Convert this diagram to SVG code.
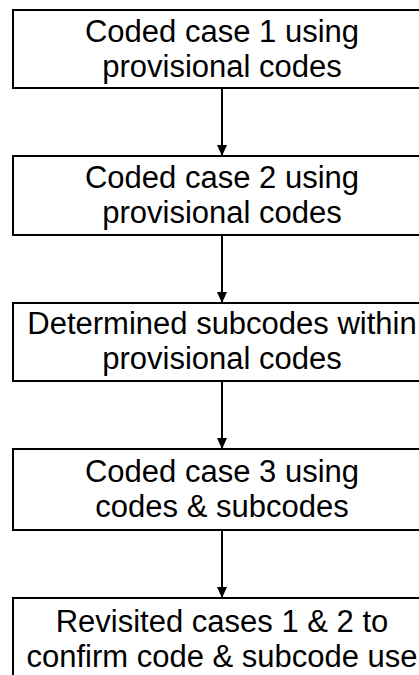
<svg xmlns="http://www.w3.org/2000/svg" width="419" height="675" viewBox="0 0 419 675">
<style>
.box{fill:#fff;stroke:#000;stroke-width:2}
.t{font-family:"Liberation Sans",Arial,Helvetica,sans-serif;font-size:31px;fill:#000;text-anchor:middle}
.edge{stroke:#000;stroke-width:2;fill:none;marker-end:url(#ah)}
</style>
<defs>
<marker id="ah" markerWidth="10" markerHeight="12" refX="10" refY="5" orient="auto" markerUnits="userSpaceOnUse">
<path d="M0,0 L11,5 L0,10 z" fill="#000"/>
</marker>
</defs>
<rect width="419" height="675" fill="#fff"/>
<g id="connectors">
<line class="edge" x1="222" y1="88" x2="222" y2="155"/>
<line class="edge" x1="222" y1="235" x2="222" y2="302"/>
<line class="edge" x1="222" y1="381" x2="222" y2="448"/>
<line class="edge" x1="222" y1="530" x2="222" y2="597"/>
</g>
<g id="n1">
<rect class="box" x="13" y="10" width="418" height="78"/>
<text class="t" x="222" y="42">Coded case 1 using</text>
<text class="t" x="222" y="77">provisional codes</text>
</g>
<g id="n2">
<rect class="box" x="13" y="156" width="418" height="79"/>
<text class="t" x="222" y="188">Coded case 2 using</text>
<text class="t" x="222" y="223">provisional codes</text>
</g>
<g id="n3">
<rect class="box" x="13" y="303" width="418" height="78"/>
<text class="t" x="222" y="334">Determined subcodes within</text>
<text class="t" x="222" y="369">provisional codes</text>
</g>
<g id="n4">
<rect class="box" x="13" y="449" width="418" height="81"/>
<text class="t" x="222" y="482">Coded case 3 using</text>
<text class="t" x="222" y="517">codes &amp; subcodes</text>
</g>
<g id="n5">
<rect class="box" x="13" y="598" width="418" height="90"/>
<text class="t" x="222" y="632">Revisited cases 1 &amp; 2 to</text>
<text class="t" x="222" y="667">confirm code &amp; subcode use</text>
</g>
</svg>
